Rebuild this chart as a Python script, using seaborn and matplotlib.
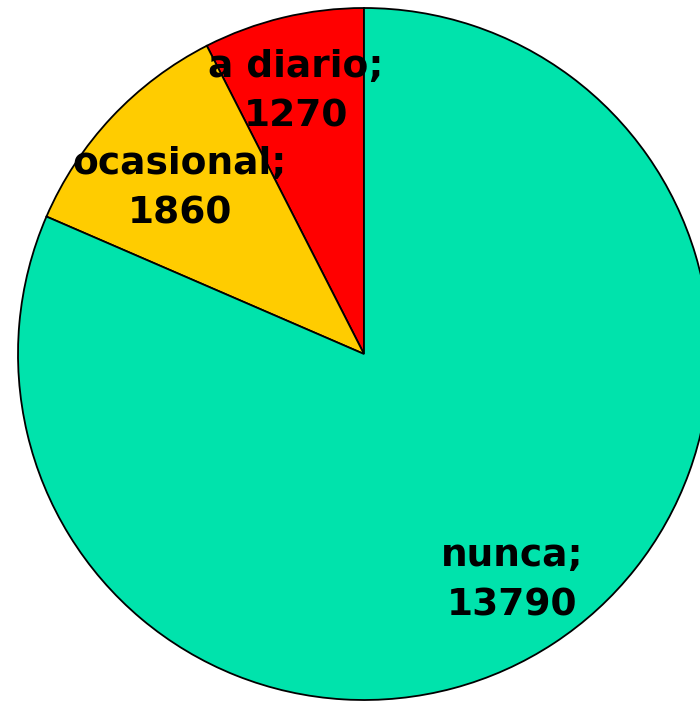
import matplotlib
matplotlib.use("Agg")
import matplotlib.pyplot as plt
import seaborn as sns

sns.set_theme(style="white")
plt.rcParams['font.family'] = ['DejaVu Sans']

categories = ["a diario", "ocasional", "nunca"]
values = [1270, 1860, 13790]
colors = ["#FF0000", "#FFCC00", "#00E3AC"]
label_pos = [(-0.196, 0.758), (-0.532, 0.478), (0.428, -0.655)]

fig = plt.figure(figsize=(7.0, 7.01), dpi=100)
ax = fig.add_axes([0, 0, 1, 1])
ax.pie(values, colors=colors, startangle=90, counterclock=True, radius=1.0,
       wedgeprops=dict(edgecolor="black", linewidth=1.3))
for cat, val, (x, y) in zip(categories, values, label_pos):
    ax.text(x, y, f"{cat};\n{val}", ha="center", va="center", fontsize=27,
            fontweight="bold", color="black", linespacing=1.5)
ax.set_xlim(-364/346, (700-364)/346)
ax.set_ylim(-(701-354)/346, 354/346)
ax.set_aspect("equal")
ax.axis("off")
fig.savefig("out.png", dpi=100)
